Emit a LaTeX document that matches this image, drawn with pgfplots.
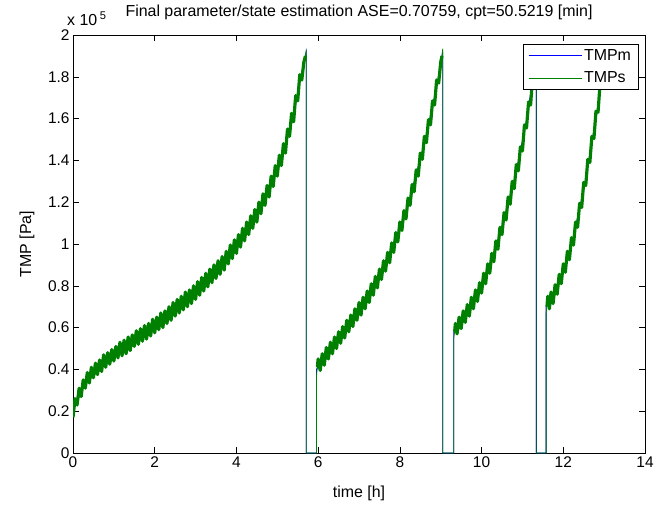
\documentclass[border=0pt]{standalone}
\usepackage{fontspec}
\setmainfont{Liberation Sans}
\usepackage{pgfplots}
\pgfplotsset{compat=1.18}
\definecolor{mgreen}{rgb}{0,0.5,0}
\definecolor{mblue}{rgb}{0,0,1}
\begin{document}
\begin{tikzpicture}
\begin{axis}[
  scale only axis, width=572bp, height=418bp,
  xmin=0, xmax=14, ymin=0, ymax=2,
  xtick={0,2,4,6,8,10,12,14},
  ytick={0,0.2,0.4,0.6,0.8,1,1.2,1.4,1.6,1.8,2},
  tick align=inside, major tick length=6bp,
  axis line style={line width=0.8pt},
  every tick/.style={black, line width=0.5pt},
  tick label style={font=\fontsize{15.5}{18}\selectfont},
  /pgf/number format/assume math mode=true,
  xlabel={time [h]}, ylabel={TMP [Pa]},
  every axis x label/.style={at={(rel axis cs:0.5,0)}, yshift=-40bp, anchor=center,
    font=\fontsize{16}{19}\selectfont},
  every axis y label/.style={at={(rel axis cs:0,0.5)}, xshift=-46bp, rotate=90, anchor=center,
    font=\fontsize{16}{19}\selectfont},
  title={Final parameter/state estimation ASE=0.70759, cpt=50.5219 [min]},
  title style={at={(0.5,1)}, anchor=south, yshift=6bp, font=\fontsize{16}{19}\selectfont},
  legend style={at={(0.988,0.978)}, anchor=north east, draw=black, fill=white,
    font=\fontsize{16}{19}\selectfont, row sep=6bp, inner xsep=5bp, inner ysep=3bp},
  legend cell align=left,
  legend image code/.code={\draw[#1] (0bp,0bp) -- (53bp,0bp);},
  unbounded coords=jump,
]
% TMPm (measured, mostly hidden under the estimate)
\addplot[mblue, line width=0.9pt] coordinates {
(0,0.20) (0.3,0.34) (0.5,0.39) (1,0.47) (1.5,0.54) (2,0.61) (2.5,0.69) (3,0.77)
(3.5,0.87) (4,0.99) (4.5,1.14) (4.8,1.26) (5,1.36) (5.2,1.47) (5.4,1.62) (5.6,1.82) (5.71,1.92)
(5.71,0) (5.96,0) (5.96,0.40) (6.2,0.47) (6.6,0.57) (7,0.685) (7.4,0.81) (7.8,0.97)
(8.2,1.185) (8.6,1.48) (8.9,1.75) (9.05,1.92)
(9.05,0) (9.32,0) (9.32,0.58) (9.6,0.66) (10,0.80) (10.4,1.01) (10.8,1.30) (11.1,1.59) (11.34,1.90)
(11.34,0) (11.58,0) (11.58,0.70) (11.9,0.82) (12.2,0.995) (12.5,1.26) (12.8,1.60) (13.05,1.93)
};
\addlegendentry{TMPm}
% TMPs noisy band (one piece per filtration cycle)
\addplot[mgreen, line width=3.2pt, line join=round, forget plot] coordinates {
(0.00,0.17) (0.05,0.26) (0.10,0.23) (0.15,0.31) (0.20,0.27) (0.25,0.35) (0.30,0.31) (0.35,0.385)
(0.40,0.335) (0.45,0.41) (0.50,0.36) (0.55,0.43) (0.60,0.375) (0.65,0.445) (0.70,0.39) (0.75,0.47)
(0.80,0.41) (0.85,0.48) (0.90,0.425) (0.95,0.495) (1.00,0.44) (1.05,0.51) (1.10,0.455) (1.15,0.53)
(1.20,0.465) (1.25,0.54) (1.30,0.475) (1.35,0.555) (1.40,0.49) (1.45,0.565) (1.50,0.51) (1.55,0.585)
(1.60,0.52) (1.65,0.595) (1.70,0.535) (1.75,0.61) (1.80,0.545) (1.85,0.62) (1.90,0.56) (1.95,0.64)
(2.00,0.575) (2.05,0.65) (2.10,0.59) (2.15,0.67) (2.20,0.60) (2.25,0.68) (2.30,0.62) (2.35,0.70)
(2.40,0.635) (2.45,0.72) (2.50,0.655) (2.55,0.735) (2.60,0.67) (2.65,0.75) (2.70,0.685) (2.75,0.77)
(2.80,0.70) (2.85,0.78) (2.90,0.715) (2.95,0.80) (3.00,0.735) (3.05,0.82) (3.10,0.755) (3.15,0.84)
(3.20,0.775) (3.25,0.86) (3.30,0.795) (3.35,0.88) (3.40,0.815) (3.45,0.90) (3.50,0.835) (3.55,0.92)
(3.60,0.855) (3.65,0.94) (3.70,0.875) (3.75,0.965) (3.80,0.905) (3.85,0.995) (3.90,0.93) (3.95,1.02)
(4.00,0.955) (4.05,1.045) (4.10,0.985) (4.15,1.075) (4.20,1.015) (4.25,1.105) (4.30,1.045) (4.35,1.135)
(4.40,1.075) (4.45,1.165) (4.50,1.105) (4.55,1.20) (4.60,1.145) (4.65,1.24) (4.70,1.185) (4.75,1.28)
(4.80,1.225) (4.85,1.325) (4.90,1.275) (4.95,1.375) (5.00,1.325) (5.05,1.425) (5.10,1.375) (5.15,1.48)
(5.20,1.435) (5.25,1.55) (5.30,1.515) (5.35,1.625) (5.40,1.585) (5.45,1.71) (5.50,1.685) (5.55,1.81)
(5.60,1.785) (5.65,1.87) (5.69,1.90)
(5.8,nan)
(5.98,0.41)
(6.00,0.45) (6.05,0.395) (6.10,0.475) (6.15,0.42) (6.20,0.505) (6.25,0.45) (6.30,0.53) (6.35,0.475)
(6.40,0.555) (6.45,0.50) (6.50,0.58) (6.55,0.525) (6.60,0.605) (6.65,0.55) (6.70,0.635) (6.75,0.58)
(6.80,0.66) (6.85,0.605) (6.90,0.69) (6.95,0.635) (7.00,0.72) (7.05,0.66) (7.10,0.745) (7.15,0.69)
(7.20,0.775) (7.25,0.72) (7.30,0.81) (7.35,0.755) (7.40,0.845) (7.45,0.79) (7.50,0.88) (7.55,0.83)
(7.60,0.92) (7.65,0.87) (7.70,0.96) (7.75,0.91) (7.80,1.005) (7.85,0.96) (7.90,1.055) (7.95,1.01)
(8.00,1.105) (8.05,1.065) (8.10,1.16) (8.15,1.12) (8.20,1.22) (8.25,1.185) (8.30,1.285) (8.35,1.25)
(8.40,1.355) (8.45,1.325) (8.50,1.435) (8.55,1.405) (8.60,1.515) (8.65,1.485) (8.70,1.595) (8.75,1.57)
(8.80,1.685) (8.85,1.665) (8.90,1.785) (8.95,1.77) (9.00,1.87) (9.03,1.90)
(9.2,nan)
(9.34,0.58)
(9.36,0.62) (9.40,0.57) (9.45,0.65) (9.50,0.595) (9.55,0.68) (9.60,0.625) (9.65,0.71) (9.70,0.655)
(9.75,0.745) (9.80,0.69) (9.85,0.78) (9.90,0.725) (9.95,0.815) (10.00,0.765) (10.05,0.86) (10.10,0.81)
(10.15,0.905) (10.20,0.86) (10.25,0.955) (10.30,0.915) (10.35,1.015) (10.40,0.975) (10.45,1.08) (10.50,1.045)
(10.55,1.15) (10.60,1.115) (10.65,1.225) (10.70,1.19) (10.75,1.30) (10.80,1.265) (10.85,1.38) (10.90,1.35)
(10.95,1.465) (11.00,1.445) (11.05,1.57) (11.10,1.555) (11.15,1.68) (11.20,1.665) (11.25,1.80) (11.32,1.88)
(11.45,nan)
(11.60,0.70)
(11.62,0.75) (11.66,0.69) (11.70,0.77) (11.75,0.715) (11.80,0.805) (11.85,0.76) (11.90,0.855) (11.95,0.81)
(12.00,0.905) (12.05,0.865) (12.10,0.965) (12.15,0.925) (12.20,1.03) (12.25,0.995) (12.30,1.105) (12.35,1.08)
(12.40,1.195) (12.45,1.175) (12.50,1.295) (12.55,1.28) (12.60,1.405) (12.65,1.39) (12.70,1.515) (12.75,1.505)
(12.80,1.635) (12.85,1.63) (12.90,1.765) (12.95,1.765) (13.00,1.905) (13.05,1.93)
};
% TMPs restarts (thin vertical drops between cycles)
\addplot[mgreen, line width=0.8pt] coordinates {
(5.69,1.90) (5.71,1.93) (5.71,0) (5.96,0) (5.96,0.37) (5.98,0.41)
(5.99,nan)
(9.03,1.90) (9.05,1.935) (9.05,0) (9.32,0) (9.32,0.55) (9.34,0.58)
(9.35,nan)
(11.32,1.88) (11.34,1.91) (11.34,0) (11.58,0) (11.58,0.67) (11.60,0.70)
};
\addlegendentry{TMPs}
\end{axis}
\node[anchor=south west, inner sep=0pt, font=\fontsize{16}{19}\selectfont]
  at ([xshift=-6bp,yshift=9bp]current axis.north west) {x 10\,\textsuperscript{5}};
\pgfresetboundingbox
\path[use as bounding box] ([xshift=-73bp,yshift=-52bp]current axis.south west)
  rectangle ([xshift=22bp,yshift=35bp]current axis.north east);
\end{tikzpicture}
\end{document}
